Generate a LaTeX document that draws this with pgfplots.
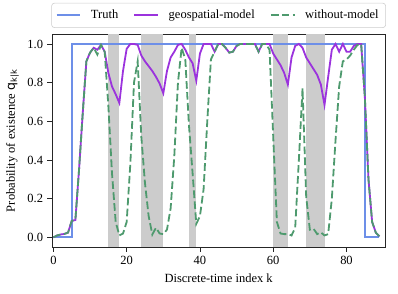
\documentclass[border=0pt]{standalone}
\usepackage{fontspec}
\setmainfont{Liberation Serif}
\newfontfamily\dejavu{DejaVu Sans}
\usepackage{pgfplots}
\pgfplotsset{compat=1.18}
\usepackage{pgfplotstable}
\definecolor{truthc}{HTML}{6D8FE8}
\definecolor{geoc}{HTML}{9B33DD}
\definecolor{woc}{HTML}{4E9A6E}
\definecolor{shade}{HTML}{CCCCCC}

\pgfplotstableread{
k geo wo
0 0.0 0.0
1 0.01 0.01
2 0.015 0.015
3 0.018 0.018
4 0.025 0.025
5 0.085 0.085
6 0.09 0.09
7 0.35 0.35
8 0.64 0.64
9 0.91 0.91
10 0.955 0.955
11 0.98 0.98
12 0.97 0.945
13 0.995 0.995
14 0.96 0.96
15 0.85 0.68
16 0.78 0.33
17 0.74 0.08
18 0.695 0.01
19 0.86 0.02
20 0.975 0.08
21 1.0 0.38
22 1.0 0.8
23 0.995 0.91
24 0.94 0.52
25 0.91 0.28
26 0.885 0.11
27 0.86 0.015
28 0.83 0.05
29 0.795 0.02
30 0.745 0.017
31 0.86 0.04
32 0.93 0.15
33 0.96 0.42
34 0.995 0.8
35 1.0 0.98
36 0.97 0.92
37 0.93 0.58
38 0.9 0.33
39 0.81 0.07
40 0.95 0.11
41 1.0 0.25
42 1.0 0.6
43 1.0 0.92
44 0.96 0.96
45 1.0 1.0
46 1.0 1.0
47 0.98 0.98
48 0.955 0.955
49 0.96 0.96
50 0.99 0.99
51 1.0 1.0
52 1.0 1.0
53 1.0 1.0
54 1.0 1.0
55 1.0 1.0
56 0.96 0.96
57 1.0 1.0
58 1.0 1.0
59 1.0 0.97
60 0.95 0.52
61 0.92 0.08
62 0.89 0.02
63 0.85 0.017
64 0.79 0.017
65 0.93 0.01
66 0.99 0.05
67 1.0 0.4
68 0.98 0.77
69 0.93 0.21
70 0.9 0.04
71 0.87 0.045
72 0.84 0.017
73 0.79 0.026
74 0.685 0.01
75 0.83 0.017
76 0.97 0.2
77 1.0 0.5
78 0.96 0.78
79 1.0 0.91
80 0.96 0.92
81 0.96 0.94
82 0.99 0.97
83 1.0 0.995
84 1.0 1.0
85 0.73 0.73
86 0.3 0.3
87 0.08 0.08
88 0.025 0.025
89 0.005 0.005
}\data

\begin{document}
\fontsize{9}{11}\selectfont
\begin{tikzpicture}
\useasboundingbox (-37.7pt,-33.6pt) rectangle (249.2pt,178.1pt);
\begin{axis}[
  scale only axis, width=239.8pt, height=153.4pt,
  xmin=-0.3, xmax=90.5, ymin=-0.05, ymax=1.05,
  xtick={0,20,40,60,80}, ytick={0,0.2,0.4,0.6,0.8,1.0},
  yticklabel style={/pgf/number format/fixed, /pgf/number format/fixed zerofill, /pgf/number format/precision=1},
  /pgf/number format/assume math mode=true,
  tick align=outside, tick pos=left, major tick length=3.5pt,
  axis line style={line width=0.6pt, black!85},
  tick style={line width=0.6pt, black!85},
  xlabel={Discrete-time index k},
  ylabel={Probability of existence {\dejavu q}\textsubscript{\dejavu k|k}},
  label style={font=\fontsize{9}{11}\selectfont},
  ticklabel style={font=\fontsize{9}{11}\selectfont},
  legend style={at={(0.5,1.03)}, anchor=south, legend columns=3,
    draw=black!20, rounded corners=2pt, font=\fontsize{9}{11}\selectfont,
    inner xsep=3pt, inner ysep=3pt,
    /tikz/every odd column/.append style={column sep=5pt},
    /tikz/every even column/.append style={column sep=9pt}},
  legend cell align=left,
]
\addplot[fill=shade, draw=none, forget plot] coordinates {(15,-0.05) (15,1.05) (18,1.05) (18,-0.05)} -- cycle;
\addplot[fill=shade, draw=none, forget plot] coordinates {(24,-0.05) (24,1.05) (30,1.05) (30,-0.05)} -- cycle;
\addplot[fill=shade, draw=none, forget plot] coordinates {(37,-0.05) (37,1.05) (39,1.05) (39,-0.05)} -- cycle;
\addplot[fill=shade, draw=none, forget plot] coordinates {(60,-0.05) (60,1.05) (64,1.05) (64,-0.05)} -- cycle;
\addplot[fill=shade, draw=none, forget plot] coordinates {(69,-0.05) (69,1.05) (74,1.05) (74,-0.05)} -- cycle;
\addplot[truthc, line width=1.3pt, line join=miter] coordinates {(0,0) (5,0) (5,1) (85,1) (85,0) (89,0)};
\addlegendentry{Truth}
\addplot[geoc, line width=1.3pt] table[x=k, y=geo] {\data};
\addlegendentry{geospatial-model}
\addplot[woc, line width=1.3pt, dash pattern=on 5.5pt off 2.4pt] table[x=k, y=wo] {\data};
\addlegendentry{without-model}
\end{axis}
\end{tikzpicture}
\end{document}
